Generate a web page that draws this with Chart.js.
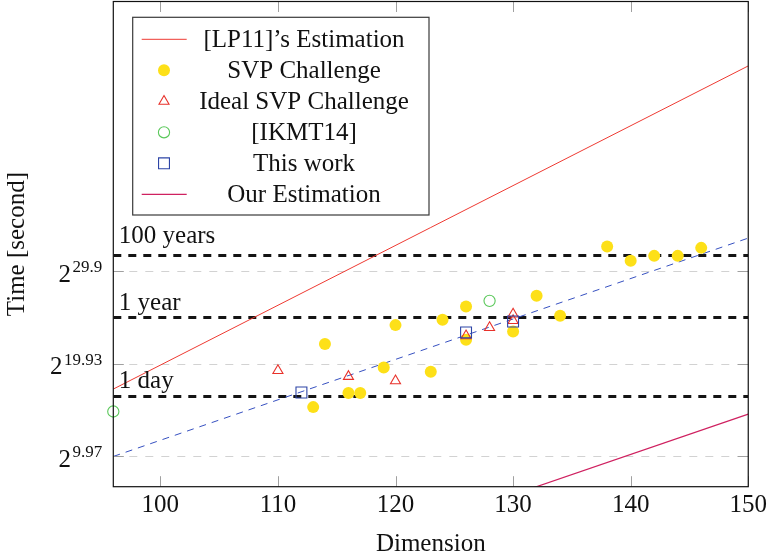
<!DOCTYPE html>
<html><head><meta charset="utf-8">
<script src="https://cdn.jsdelivr.net/npm/chart.js@4/dist/chart.umd.min.js"></script>
<style>html,body{margin:0;padding:0;background:#fff;}canvas{display:block;}</style>
</head><body>
<canvas id="c" width="771" height="552"></canvas>
<script>
const FONT = "'Liberation Serif', 'Times New Roman', serif";

// x: lattice dimension, y: log2 of time in seconds
const xRange = [96, 150];
const yRange = [6.72, 58.85];
const xTickValues = [100, 110, 120, 130, 140, 150];
const yTickValues = [9.97, 19.93, 29.9];

const svpDims = [113, 114, 116, 117, 119, 120, 123, 124, 126, 126, 130, 132, 134, 138, 140, 142, 144, 146];
const svpLog2Time = [15.27, 22.04, 16.78, 16.78, 19.53, 24.08, 19.06, 24.65, 26.08, 22.50, 23.39, 27.23, 25.08, 32.52, 30.99, 31.52, 31.52, 32.38];

const idealDims = [110, 116, 120, 126, 128, 130, 130];
const idealLog2Time = [19.20, 18.56, 18.10, 22.93, 23.82, 25.26, 24.57];

const ikmtDims = [96, 128];
const ikmtLog2Time = [14.80, 26.69];

const thisWorkDims = [112, 126, 130];
const thisWorkLog2Time = [16.84, 23.29, 24.47];

const lp11Dims = [96, 150];
const lp11Log2Time = [17.21, 51.93];

const fitDims = [96, 150];
const fitLog2Time = [9.97, 33.43];

const ourEstDims = [96, 150];
const ourEstLog2Time = [-8.87, 14.52];

const refNames = ['1 day', '1 year', '100 years'];
const refSeconds = [86400, 31536000, 3153600000];

const pts = (xs, ys) => xs.map((x, i) => ({ x: x, y: ys[i] }));

const datasets = [
  { label: "[LP11]\u2019s Estimation", data: pts(lp11Dims, lp11Log2Time), showLine: true,
    borderColor: '#ee3a32', borderWidth: 1, pointRadius: 0, order: 7, inLegend: true, kind: 'line' },
  { label: 'SVP Challenge', data: pts(svpDims, svpLog2Time), pointStyle: 'circle', pointRadius: 6,
    backgroundColor: '#fde018', borderColor: '#fde018', borderWidth: 0, order: 5, clip: false, inLegend: true },
  { label: 'Ideal SVP Challenge', data: pts(idealDims, idealLog2Time), pointStyle: 'triangle', pointRadius: 5.8,
    backgroundColor: 'rgba(0,0,0,0)', borderColor: '#e8312a', borderWidth: 1.1, order: 4, clip: false, inLegend: true },
  { label: '[IKMT14]', data: pts(ikmtDims, ikmtLog2Time), pointStyle: 'circle', pointRadius: 5.6,
    backgroundColor: 'rgba(0,0,0,0)', borderColor: '#5ac85a', borderWidth: 1.1, order: 3, clip: false, inLegend: true },
  { label: 'This work', data: pts(thisWorkDims, thisWorkLog2Time), pointStyle: 'rect', pointRadius: 7.7,
    backgroundColor: 'rgba(0,0,0,0)', borderColor: '#2d44a6', borderWidth: 1.1, order: 2, clip: false, inLegend: true },
  { label: 'Our Estimation', data: pts(ourEstDims, ourEstLog2Time), showLine: true,
    borderColor: '#cf2160', borderWidth: 1.2, pointRadius: 0, order: 6, inLegend: true, kind: 'line' },
  { label: 'fit', data: pts(fitDims, fitLog2Time), showLine: true, borderColor: '#3650c0',
    borderWidth: 1, borderDash: [7, 6], pointRadius: 0, order: 8 }
];
refSeconds.forEach((s, i) => {
  const v = Math.log2(s);
  datasets.push({ label: refNames[i], data: pts(xRange, [v, v]), showLine: true, borderColor: '#141414',
    borderWidth: 3, borderDash: [8, 7], pointRadius: 0, order: 9 });
});

const refLabelOffsets = [8.5, 7.5, 12.5];

function marker(ctx, ds, x, y) {
  ctx.save();
  ctx.lineWidth = ds.borderWidth || 1;
  ctx.strokeStyle = ds.borderColor;
  ctx.fillStyle = ds.backgroundColor;
  const r = ds.pointRadius;
  ctx.beginPath();
  if (ds.pointStyle === 'circle') {
    ctx.arc(x, y, r, 0, Math.PI * 2);
  } else if (ds.pointStyle === 'triangle') {
    let a = 0;
    for (let k = 0; k < 3; k++) {
      const px = x + Math.sin(a) * r, py = y - Math.cos(a) * r;
      if (k === 0) ctx.moveTo(px, py); else ctx.lineTo(px, py);
      a += 2 * Math.PI / 3;
    }
    ctx.closePath();
  } else if (ds.pointStyle === 'rect') {
    const s = Math.SQRT1_2 * r;
    ctx.rect(x - s, y - s, 2 * s, 2 * s);
  }
  ctx.fill();
  if (ds.borderWidth > 0) ctx.stroke();
  ctx.restore();
}

const decor = {
  id: 'decor',
  beforeDatasetsDraw(chart) {
    const { ctx, chartArea: a, scales: { y } } = chart;
    ctx.save();
    ctx.strokeStyle = '#d2d2d2';
    ctx.lineWidth = 1;
    ctx.setLineDash([8, 8]);
    yTickValues.forEach(v => {
      const py = Math.round(y.getPixelForValue(v)) + 0.5;
      ctx.beginPath(); ctx.moveTo(a.left, py); ctx.lineTo(a.right, py); ctx.stroke();
    });
    ctx.restore();
  },
  afterDatasetsDraw(chart) {
    const { ctx, chartArea: a, scales: { x, y } } = chart;
    ctx.save();
    ctx.strokeStyle = '#a0a0a0';
    ctx.lineWidth = 1;
    const tl = 10.5;
    xTickValues.forEach(v => {
      const px = Math.round(x.getPixelForValue(v)) + 0.5;
      ctx.beginPath();
      ctx.moveTo(px, a.bottom); ctx.lineTo(px, a.bottom - tl);
      ctx.moveTo(px, a.top); ctx.lineTo(px, a.top + tl);
      ctx.stroke();
    });
    yTickValues.forEach(v => {
      const py = Math.round(y.getPixelForValue(v)) + 0.5;
      ctx.beginPath();
      ctx.moveTo(a.left, py); ctx.lineTo(a.left + tl, py);
      ctx.moveTo(a.right, py); ctx.lineTo(a.right - tl, py);
      ctx.stroke();
    });
    ctx.strokeStyle = '#111';
    ctx.lineWidth = 1.2;
    ctx.strokeRect(a.left, a.top, a.right - a.left, a.bottom - a.top);
    ctx.restore();
  },
  afterDraw(chart) {
    const { ctx, chartArea: a, scales: { x, y } } = chart;
    ctx.save();
    ctx.fillStyle = '#111';
    ctx.textBaseline = 'alphabetic';
    // y tick labels 2^e
    yTickValues.forEach(v => {
      const py = y.getPixelForValue(v);
      const xr = a.left - 11;
      const e = String(v);
      ctx.font = '17px ' + FONT;
      ctx.textAlign = 'right';
      ctx.fillText(e, xr, py + 1);
      const w = ctx.measureText(e).width;
      ctx.font = '25px ' + FONT;
      ctx.fillText('2', xr - w - 1.5, py + 10.7);
    });
    // axis titles
    ctx.font = '25px ' + FONT;
    ctx.textAlign = 'center';
    ctx.fillText('Dimension', (a.left + a.right) / 2, 551);
    ctx.save();
    ctx.translate(24, (a.top + a.bottom) / 2);
    ctx.rotate(-Math.PI / 2);
    ctx.fillText('Time [second]', 0, 0);
    ctx.restore();
    // reference line labels
    ctx.textAlign = 'left';
    refSeconds.forEach((s, i) => {
      const py = y.getPixelForValue(Math.log2(s));
      ctx.fillText(refNames[i], x.getPixelForValue(xRange[0]) + 5.5, py - refLabelOffsets[i]);
    });
    // legend
    const L = 132.7, T = 17.3, R = 429, B = 215;
    ctx.fillStyle = '#fff';
    ctx.fillRect(L, T, R - L, B - T);
    ctx.strokeStyle = '#3a3a3a';
    ctx.lineWidth = 1.2;
    ctx.strokeRect(L, T, R - L, B - T);
    const items = chart.data.datasets.filter(d => d.inLegend);
    items.forEach((ds, i) => {
      const cy = 39.3 + i * 31;
      if (ds.kind === 'line') {
        ctx.save();
        ctx.strokeStyle = ds.borderColor;
        ctx.lineWidth = ds.borderWidth;
        ctx.beginPath(); ctx.moveTo(141.7, cy); ctx.lineTo(186.7, cy); ctx.stroke();
        ctx.restore();
      } else {
        marker(ctx, ds, 164, cy);
      }
      ctx.fillStyle = '#111';
      ctx.font = '25px ' + FONT;
      ctx.textAlign = 'center';
      ctx.fillText(ds.label, 304, cy + 8);
    });
    ctx.restore();
  }
};

new Chart(document.getElementById('c'), {
  type: 'scatter',
  data: { datasets: datasets },
  options: {
    responsive: false,
    animation: false,
    devicePixelRatio: 1,
    events: [],
    layout: { autoPadding: false, padding: { top: 1.5, right: 21.5, left: 0, bottom: 0 } },
    plugins: { legend: { display: false }, tooltip: { enabled: false } },
    scales: {
      x: {
        type: 'linear', min: xRange[0], max: xRange[1],
        grid: { display: false, drawTicks: false },
        border: { display: false },
        afterBuildTicks: s => { s.ticks = xTickValues.map(v => ({ value: v })); },
        afterFit: s => { s.height = 65.3; },
        ticks: { font: { family: FONT, size: 25 }, color: '#111', padding: 4, maxRotation: 0, autoSkip: false }
      },
      y: {
        type: 'linear', min: yRange[0], max: yRange[1],
        grid: { display: false, drawTicks: false },
        border: { display: false },
        afterBuildTicks: s => { s.ticks = yTickValues.map(v => ({ value: v })); },
        afterFit: s => { s.width = 113.3; },
        ticks: { display: false }
      }
    }
  },
  plugins: [decor]
});
</script>
</body></html>
